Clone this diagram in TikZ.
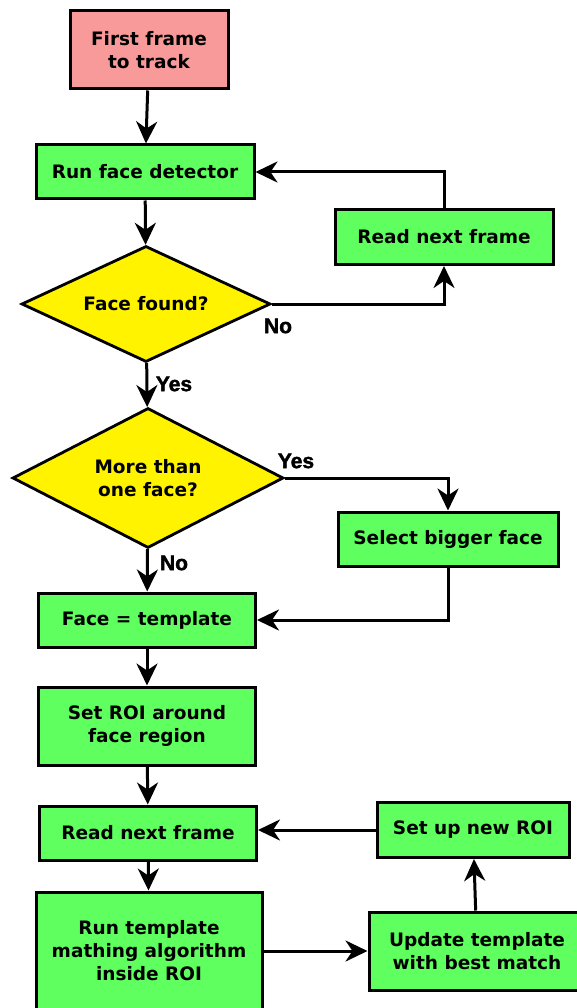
\documentclass[tikz,border=0pt]{standalone}
\usepackage{fontspec}
\setmainfont{DejaVu Sans}
\newfontfamily\lblfont{Liberation Sans Bold}[FakeBold=1.8]
\usetikzlibrary{shapes.geometric,arrows.meta}
\definecolor{boxgreen}{RGB}{94,255,94}
\definecolor{boxpink}{RGB}{249,154,154}
\definecolor{decyellow}{RGB}{255,243,0}

\begin{document}
\begin{tikzpicture}[x=1pt,y=-1pt,
  box/.style={rectangle,draw,line width=3pt,fill=boxgreen,inner sep=0pt,align=center,
    font=\fontsize{18.5}{23}\selectfont\bfseries},
  decision/.style={diamond,draw,line width=2.8pt,fill=decyellow,inner sep=0pt,align=center,
    font=\fontsize{18.5}{23}\selectfont\bfseries},
  edge/.style={line width=3pt,-{Stealth[length=22pt,width=21pt,inset=7pt]}},
  lbl/.style={font=\lblfont\fontsize{21}{21}\selectfont,inner sep=0pt}
]
\useasboundingbox (0,0) rectangle (576,1008);

\node[box,fill=boxpink,minimum width=158pt,minimum height=78pt] (first) at (149,50) {First frame\\to track};
\node[box,minimum width=218pt,minimum height=54pt] (detect) at (145,172) {Run face detector};
\node[box,minimum width=218pt,minimum height=55pt] (readtop) at (444,237) {Read next frame};
\node[decision,aspect=2.15,minimum width=249pt,minimum height=116pt] (found) at (146,304) {Face found?};
\node[decision,aspect=1.94,minimum width=271pt,minimum height=140pt] (many) at (148,478) {More than\\one face?};
\node[box,minimum width=220pt,minimum height=54pt] (bigger) at (448,539) {Select bigger face};
\node[box,minimum width=217pt,minimum height=54pt] (templ) at (147,620) {Face = template};
\node[box,minimum width=217pt,minimum height=78pt] (roi) at (147,726) {Set ROI around\\face region};
\node[box,minimum width=217pt,minimum height=54pt] (readbot) at (148,833) {Read next frame};
\node[box,minimum width=192pt,minimum height=55pt] (newroi) at (473,830) {Set up new ROI};
\node[box,minimum width=226pt,minimum height=118pt] (match) at (149,951) {Run template\\mathing algorithm\\inside ROI};
\node[box,minimum width=216pt,minimum height=78pt] (update) at (477,951) {Update template\\with best match};

\node[lbl] (no1) at (278,326) {No};
\node[lbl] (yes1) at (174,384) {Yes};
\node[lbl] (yes2) at (296,461) {Yes};
\node[lbl] (no2) at (174,563) {No};

\draw[edge] (first) -- (detect);
\draw[edge] (detect) -- (found);
\draw[edge] (found.east) -| (readtop.south);
\draw[edge] (readtop.north) |- (detect.east);
\draw[edge] (found) -- (many);
\draw[edge] (many.east) -| (bigger.north);
\draw[edge] (bigger.south) |- (templ.east);
\draw[edge] (many) -- (templ);
\draw[edge] (templ) -- (roi);
\draw[edge] (roi) -- (readbot);
\draw[edge] (readbot) -- (match);
\draw[edge] (match.east) -- (match.east -| update.west);
\draw[edge] (update) -- (newroi);
\draw[edge] (newroi.west) -- (newroi.west -| readbot.east);
\end{tikzpicture}
\end{document}
